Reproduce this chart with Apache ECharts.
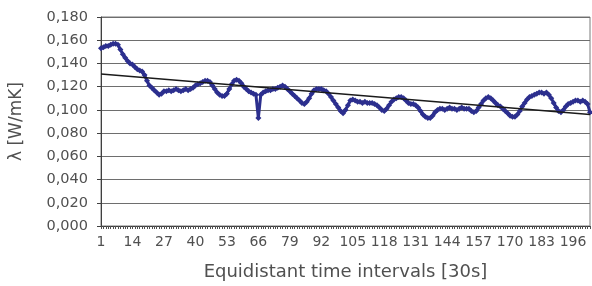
<!DOCTYPE html>
<html>
<head>
<meta charset="utf-8">
<script src="https://cdn.jsdelivr.net/npm/echarts@6/dist/echarts.min.js"></script>
<style>html,body{margin:0;padding:0;background:#fff;}#c{width:592px;height:286px;}</style>
</head>
<body>
<div id="c"></div>
<script>
var pointCount = 203;
var categories = Array.from({length: pointCount}, function (_, i) { return String(i + 1); });
var lambdaValues = [
  0.153,0.154,0.155,0.155,0.156,0.157,0.157,0.156,0.152,0.148,
  0.145,0.142,0.140,0.139,0.137,0.135,0.134,0.133,0.130,0.125,
  0.121,0.119,0.117,0.115,0.113,0.114,0.116,0.116,0.117,0.116,
  0.117,0.118,0.117,0.116,0.117,0.118,0.117,0.118,0.119,0.121,
  0.122,0.123,0.124,0.125,0.125,0.124,0.121,0.118,0.115,0.113,
  0.112,0.112,0.114,0.118,0.122,0.125,0.126,0.125,0.123,0.120,
  0.118,0.116,0.115,0.114,0.113,0.093,0.113,0.115,0.116,0.117,
  0.117,0.118,0.118,0.119,0.120,0.121,0.120,0.118,0.116,0.114,
  0.112,0.110,0.108,0.106,0.105,0.107,0.110,0.114,0.117,0.118,
  0.118,0.118,0.117,0.116,0.114,0.111,0.108,0.105,0.102,0.099,
  0.097,0.100,0.104,0.108,0.109,0.108,0.107,0.107,0.106,0.107,
  0.106,0.106,0.106,0.105,0.104,0.102,0.100,0.099,0.101,0.104,
  0.107,0.109,0.110,0.111,0.111,0.110,0.108,0.106,0.105,0.105,
  0.104,0.102,0.099,0.096,0.094,0.093,0.093,0.095,0.098,0.100,
  0.101,0.101,0.100,0.101,0.102,0.101,0.101,0.100,0.101,0.102,
  0.101,0.101,0.101,0.099,0.098,0.099,0.102,0.105,0.108,0.110,
  0.111,0.110,0.108,0.106,0.104,0.103,0.101,0.099,0.097,0.095,
  0.094,0.094,0.096,0.099,0.103,0.106,0.109,0.111,0.112,0.113,
  0.114,0.115,0.115,0.114,0.115,0.113,0.110,0.106,0.102,0.099,
  0.098,0.100,0.103,0.105,0.106,0.107,0.108,0.108,0.107,0.108,
  0.107,0.105,0.098
];
var trendCategories = ['1', '203'];
var trendValues = [0.131, 0.096];
var yTickLabels = ['0,000','0,020','0,040','0,060','0,080','0,100','0,120','0,140','0,160','0,180'];

var font = 'DejaVu Sans';
var chart = echarts.init(document.getElementById('c'), null, {renderer: 'canvas'});
chart.setOption({
  animation: false,
  backgroundColor: '#ffffff',
  grid: {left: 95, right: 2, top: 17, bottom: 59, show: true, borderColor: '#7a7a7a', borderWidth: 1},
  xAxis: {
    type: 'category',
    data: categories,
    boundaryGap: false,
    name: 'Equidistant time intervals [30s]',
    nameLocation: 'middle',
    nameGap: 37,
    nameTextStyle: {fontFamily: font, fontSize: 18, color: '#505050'},
    axisLine: {lineStyle: {color: '#404040', width: 1}},
    axisTick: {show: true, interval: 0, length: 3, lineStyle: {color: '#505050'}},
    axisLabel: {interval: 12, fontFamily: font, fontSize: 14, color: '#505050', margin: 9, hideOverlap: false},
    splitLine: {show: false}
  },
  yAxis: {
    type: 'value',
    min: 0, max: 0.18, interval: 0.02,
    name: 'λ [W/mK]',
    nameLocation: 'middle',
    nameRotate: 90,
    nameGap: 76,
    nameTextStyle: {fontFamily: font, fontSize: 17, color: '#505050'},
    axisLine: {show: true, lineStyle: {color: '#404040', width: 1}},
    axisTick: {show: true, length: 4, lineStyle: {color: '#404040'}},
    axisLabel: {fontFamily: font, fontSize: 14.5, color: '#505050', margin: 13,
      formatter: function (v) { return yTickLabels[Math.round(v / 0.02)]; }},
    splitLine: {show: true, lineStyle: {color: '#6e6e6e', width: 1}}
  },
  series: [
    {
      type: 'line',
      data: lambdaValues,
      showAllSymbol: true,
      symbol: 'diamond',
      symbolSize: 6,
      itemStyle: {color: '#2c2f8e'},
      lineStyle: {color: '#2c2f8e', width: 3},
      z: 2
    },
    {
      type: 'line',
      data: trendCategories.map(function (c, i) { return [c, trendValues[i]]; }),
      symbol: 'none',
      lineStyle: {color: '#1a1a1a', width: 1.5},
      z: 3
    }
  ]
});
</script>
</body>
</html>
